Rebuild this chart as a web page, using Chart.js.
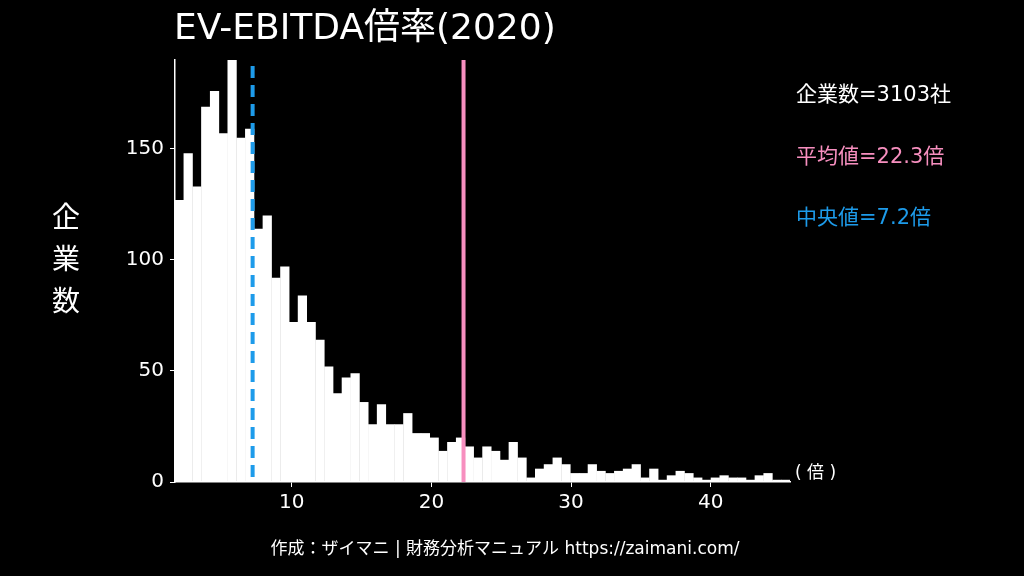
<!DOCTYPE html>
<html>
<head>
<meta charset="utf-8">
<script src="https://cdn.jsdelivr.net/npm/chart.js@4"></script>
<style>
  html, body { margin: 0; padding: 0; background: #000; }
  #wrap { width: 1024px; height: 576px; }
</style>
</head>
<body>
<div id="wrap"><canvas id="c" width="1024" height="576"></canvas></div>
<script>
// ヒストグラムのデータ
const binStart = 1.643;
const binWidth = 0.629;
const counts = [127, 148, 133, 169, 176, 157, 190, 155, 159, 114,
                120, 92, 97, 72, 84, 72, 64, 52, 40, 47,
                49, 36, 26, 35, 26, 26, 31, 22, 22, 20,
                14, 18, 20, 16, 11, 16, 14, 10, 18, 11,
                2, 6, 8, 11, 8, 4, 4, 8, 5, 4,
                5, 6, 8, 2, 6, 1, 3, 5, 4, 2,
                1, 2, 3, 2, 2, 1, 3, 4, 1, 1];
const xTicks = [10, 20, 30, 40];
const yTicks = [0, 50, 100, 150];
const meanValue = 22.3;
const medianValue = 7.2;
const companyCount = 3103;

const FONT = '"DejaVu Sans", "Noto Sans CJK JP", sans-serif';
const PINK = '#f78fbf';
const BLUE = '#1d9bea';

const points = counts.map((v, i) => ({ x: binStart + binWidth * (i + 0.5), y: v }));

// 平均値・中央値の線とテキスト
const overlay = {
    id: 'overlay',
    afterDatasetsDraw(chart) {
        const ctx = chart.ctx;
        const xs = chart.scales.x;
        const area = chart.chartArea;
        ctx.save();
        // 中央値
        ctx.strokeStyle = BLUE;
        ctx.lineWidth = 4;
        ctx.setLineDash([12, 7]);
        let px = xs.getPixelForValue(medianValue);
        ctx.beginPath();
        ctx.moveTo(px, area.top + 6);
        ctx.lineTo(px, area.bottom);
        ctx.stroke();
        // 平均値
        ctx.setLineDash([]);
        ctx.strokeStyle = PINK;
        px = xs.getPixelForValue(meanValue);
        ctx.beginPath();
        ctx.moveTo(px, area.top);
        ctx.lineTo(px, area.bottom);
        ctx.stroke();
        ctx.restore();
    },
    afterDraw(chart) {
        const ctx = chart.ctx;
        ctx.save();
        ctx.fillStyle = '#fff';
        ctx.textBaseline = 'middle';
        ctx.font = '36px ' + FONT;
        ctx.fillText('EV-EBITDA倍率(2020)', 174, 30);
        ctx.font = '21px ' + FONT;
        ctx.fillText('企業数=' + companyCount + '社', 796, 96);
        ctx.fillStyle = PINK;
        ctx.fillText('平均値=' + meanValue + '倍', 796, 158);
        ctx.fillStyle = BLUE;
        ctx.fillText('中央値=' + medianValue + '倍', 796, 219);
        ctx.fillStyle = '#fff';
        ctx.font = '17px ' + FONT;
        ctx.fillText('( 倍 )', 795, 474);
        ctx.font = '28px ' + FONT;
        ctx.textAlign = 'center';
        ['企', '業', '数'].forEach((ch, i) => ctx.fillText(ch, 66, 220 + i * 42));
        ctx.font = '17px ' + FONT;
        ctx.fillText('作成：ザイマニ | 財務分析マニュアル https://zaimani.com/', 505, 550);
        ctx.restore();
    }
};

new Chart(document.getElementById('c'), {
    type: 'bar',
    data: {
        datasets: [{
            data: points,
            backgroundColor: '#fff',
            borderColor: '#fff',
            borderWidth: 0,
            barPercentage: 1.05,
            categoryPercentage: 1
        }]
    },
    options: {
        responsive: false,
        animation: false,
        layout: { padding: { top: 60, right: 234, left: 0, bottom: 0 } },
        plugins: { legend: { display: false }, tooltip: { enabled: false } },
        scales: {
            x: {
                type: 'linear',
                offset: false,
                min: binStart,
                max: binStart + binWidth * counts.length,
                afterBuildTicks: s => { s.ticks = xTicks.map(v => ({ value: v })); },
                afterFit: s => { s.height = 94; },
                grid: { offset: false, drawOnChartArea: false, color: '#fff', tickLength: 5 },
                border: { color: '#fff', width: 1.5 },
                ticks: { color: '#fff', font: { size: 20, family: FONT }, padding: 4 }
            },
            y: {
                min: 0,
                max: 190,
                afterBuildTicks: s => { s.ticks = yTicks.map(v => ({ value: v })); },
                afterFit: s => { s.width = 175; },
                grid: { drawOnChartArea: false, color: '#fff', tickLength: 5 },
                border: { color: '#fff', width: 1.5 },
                ticks: { color: '#fff', font: { size: 20, family: FONT }, padding: 6 }
            }
        }
    },
    plugins: [overlay]
});
</script>
</body>
</html>
